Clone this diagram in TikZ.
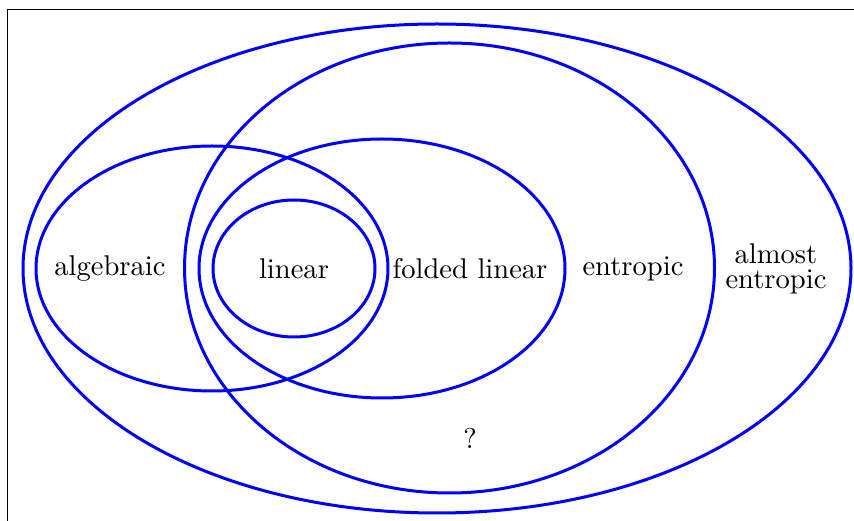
\documentclass[tikz,border=0pt]{standalone}
\begin{document}
\begin{tikzpicture}[x=0.35pt,y=-0.35pt,
  setline/.style={draw=blue,line width=1.05pt},
  lbl/.style={inner sep=0pt,font=\normalsize}]
\useasboundingbox (0,0) rectangle (854,521);
\clip (0,0) rectangle (854,521);
% frame (partly outside the picture)
\draw[line width=0.5pt] (7.5,540) -- (7.5,9.5) -- (880,9.5);
% sets
\draw[setline] (437,268.5) ellipse [x radius=414, y radius=244.5];
\draw[setline] (449.5,268) ellipse [x radius=265, y radius=225];
\draw[setline] (212,268.5) ellipse [x radius=176, y radius=122.5];
\draw[setline] (382,268.5) ellipse [x radius=183, y radius=129.5];
\draw[setline] (294,268.5) ellipse [x radius=81, y radius=68.5];
% labels
\node[lbl] (alg) at (110,269) {algebraic};
\node[lbl] (lin) at (294,269) {linear};
\node[lbl] (fold) at (470,269) {folded linear};
\node[lbl] (ent) at (633,269) {entropic};
\node[lbl,align=center] (aent) at (776,269) {almost\\[-3.5pt]entropic};
\node[lbl] (q) at (470,438) {?};
\end{tikzpicture}
\end{document}
